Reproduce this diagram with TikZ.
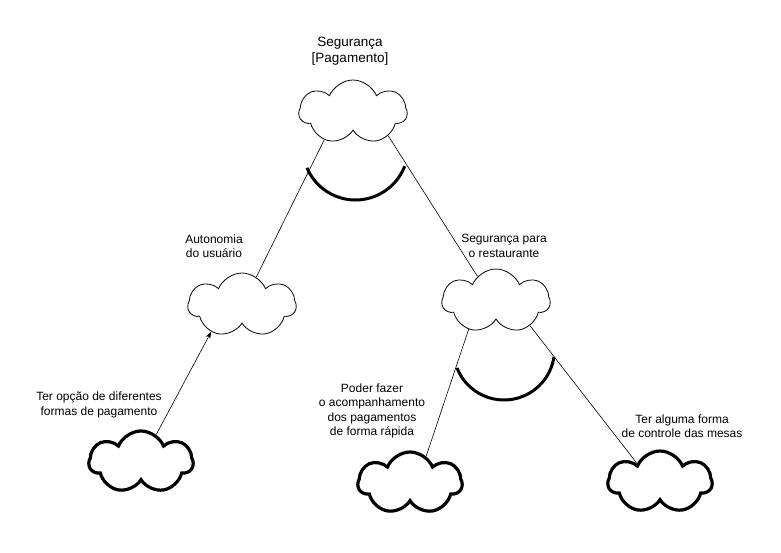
\documentclass[tikz,border=0pt]{standalone}
\usepackage{fontspec}
\setmainfont{Liberation Sans}
\usetikzlibrary{shapes.symbols, arrows.meta}

\begin{document}
\begin{tikzpicture}[x=1pt, y=-1pt,
      nuvem/.style={cloud, cloud puffs=7, cloud puff arc=135, aspect=1.65,
                    draw=black, fill=white, inner sep=0pt,
                    minimum width=108pt, minimum height=64pt},
      meta/.style={nuvem, line width=0.8pt},
      folha/.style={nuvem, line width=3.2pt, minimum width=104pt, minimum height=62pt},
      rotulo/.style={align=center, font=\fontsize{12}{14.5}\selectfont},
      ligacao/.style={draw=black, line width=0.6pt},
      fleche/.style={ligacao, -{Stealth[length=7pt, width=5pt]}},
      juncao/.style={line width=3pt}]
    \useasboundingbox (0,0) rectangle (781,553);
    % objetivos
    \node[meta]  (topo)  at (353,112) {};
    \node[meta]  (auto)  at (242,305) {};
    \node[meta]  (rest)  at (496,301) {};
    \node[folha] (formas) at (141,462) {};
    \node[folha] (acomp)  at (410,483) {};
    \node[folha] (mesas)  at (660,482) {};
    % rotulos
    \node[rotulo, font=\fontsize{13.5}{16}\selectfont] (ltopo) at (350,51) {Segurança\\{[Pagamento]}};
    \node[rotulo] (lauto)   at (214,246) {Autonomia\\do usuário};
    \node[rotulo] (lrest)   at (504,246) {Segurança para\\o restaurante};
    \node[rotulo] (lformas) at (99,405)  {Ter opção de diferentes\\formas de pagamento};
    \node[rotulo] (lacomp)  at (372,411) {Poder fazer\\o acompanhamento\\dos pagamentos\\de forma rápida};
    \node[rotulo] (lmesas)  at (682,426) {Ter alguma forma\\de controle das mesas};
    % ligacoes
    \draw[ligacao] (topo.224) -- (auto.63);
    \draw[ligacao] (topo.-34) -- (rest.127);
    \draw[ligacao] (rest.226) -- (acomp.59);
    \draw[ligacao] (rest.-36) -- (mesas.141);
    \draw[fleche]  (formas.61) -- (auto.221);
    % decomposicao E
    \draw[juncao] (355.5,147.25) ++(157:52.75) arc[start angle=157, end angle=21, radius=52.75];
    \draw[juncao] (504,349.5) ++(158.5:50.5) arc[start angle=158.5, end angle=8.5, radius=50.5];
\end{tikzpicture}
\end{document}
